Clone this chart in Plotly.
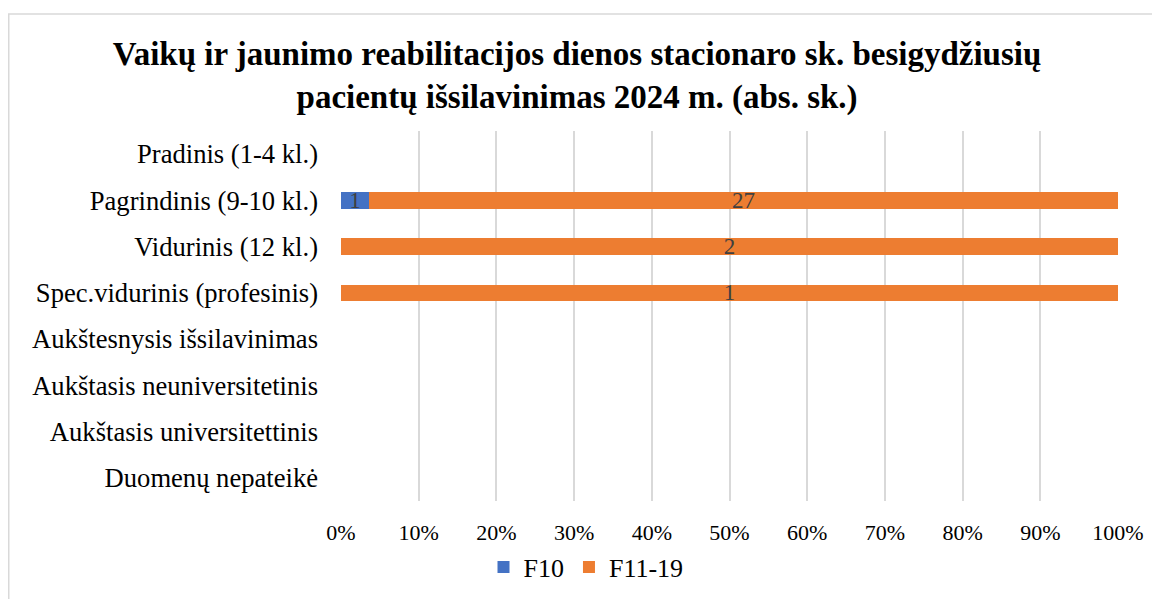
import plotly.graph_objects as go

categories = [
    "Pradinis (1-4 kl.)",
    "Pagrindinis (9-10 kl.)",
    "Vidurinis (12 kl.)",
    "Spec.vidurinis (profesinis)",
    "Aukštesnysis išsilavinimas",
    "Aukštasis neuniversitetinis",
    "Aukštasis universitettinis",
    "Duomenų nepateikė",
]
f10 = [None, 1, None, None, None, None, None, None]
f11_19 = [None, 27, 2, 1, None, None, None, None]
tick_vals = [0, 10, 20, 30, 40, 50, 60, 70, 80, 90, 100]
tick_text = [f"{v}%" for v in tick_vals]

FONT = "Liberation Serif, Times New Roman, serif"

W, H = 1152, 591
L, R, T, B = 333, 42, 123, 98
PW, PH = W - L - R, H - T - B

def labels(vals):
    return ["" if v is None else str(v) for v in vals]

fig = go.Figure()
for name, vals, color in [("F10", f10, "#4472C4"), ("F11-19", f11_19, "#ED7D31")]:
    fig.add_trace(go.Bar(
        y=categories, x=vals, name=name, orientation="h",
        marker=dict(color=color, line=dict(width=0)),
        text=labels(vals), textposition="inside", insidetextanchor="middle",
        textangle=0, constraintext="none",
        textfont=dict(family=FONT, size=23, color="#404040"),
        hoverinfo="skip",
    ))

fig.update_layout(
    width=W, height=H,
    barmode="stack", barnorm="percent", bargap=0.64,
    paper_bgcolor="white", plot_bgcolor="white",
    margin=dict(l=L, r=R, t=T, b=B, autoexpand=False),
    title=dict(
        text="<b>Vaikų ir jaunimo reabilitacijos dienos stacionaro sk. besigydžiusių<br>pacientų išsilavinimas 2024 m. (abs. sk.)</b>",
        x=0.494, xanchor="center", y=1 - 57 / H, yanchor="middle",
        font=dict(family=FONT, size=33, color="black"),
    ),
    font=dict(family=FONT, size=22, color="black"),
    xaxis=dict(
        range=[0, 100], tickvals=tick_vals, ticktext=tick_text,
        showgrid=True, gridcolor="#D9D9D9", gridwidth=1.5,
        zeroline=False, showline=False, ticks="", automargin=False,
        tickfont=dict(family=FONT, size=22, color="black"),
        ticklabelstandoff=16,
    ),
    yaxis=dict(
        autorange="reversed", showgrid=False, showline=False, ticks="",
        automargin=False,
        tickfont=dict(family=FONT, size=26.6, color="black"),
        ticklabelstandoff=22,
    ),
    legend=dict(
        orientation="h", xref="container", yref="container",
        x=578 / W, xanchor="center",
        y=1 - 559 / H, yanchor="middle",
        font=dict(family=FONT, size=26, color="black"),
        itemwidth=30, traceorder="normal",
    ),
    shapes=[dict(
        type="rect", xref="paper", yref="paper",
        x0=(0.75 - L) / PW, x1=(1150 - L) / PW,
        y0=(PH - (H + 20 - T)) / PH, y1=(PH - (6 - T)) / PH,
        line=dict(color="#D9D9D9", width=1.5), fillcolor="rgba(0,0,0,0)",
        layer="below",
    )],
)

fig.write_html("out.html")
